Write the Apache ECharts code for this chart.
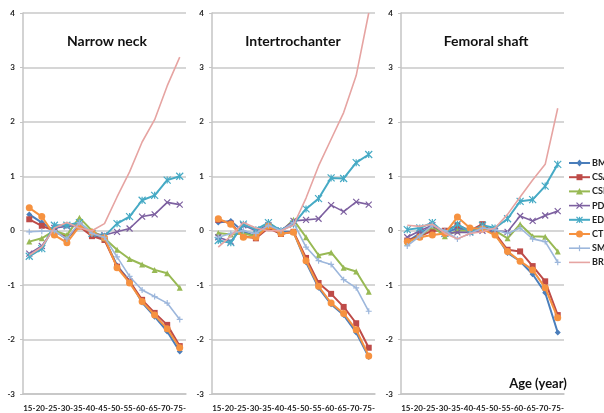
<!DOCTYPE html>
<html><head><meta charset="utf-8">
<script src="https://cdn.jsdelivr.net/npm/echarts@6/dist/echarts.min.js"></script>
<style>html,body{margin:0;padding:0;background:#fff}#c{width:604px;height:413px}</style>
</head><body><div id="c"></div>
<script>
var categories = ['15-','20-','25-','30-','35-','40-','45-','50-','55-','60-','65-','70-','75-'];
var panelTitles = ['Narrow neck','Intertrochanter','Femoral shaft'];
var seriesNames = ['BMD','CSA','CSMI','PD','ED','CT','SM','BR'];
var yTicks = [-3,-2,-1,0,1,2,3,4];

// Narrow neck
var nnBMD  = [0.30,0.15,0.00,-0.15,0.10,-0.08,-0.15,-0.64,-0.92,-1.32,-1.58,-1.85,-2.22];
var nnCSA  = [0.21,0.09,0.00,-0.12,0.08,-0.10,-0.17,-0.66,-0.93,-1.27,-1.51,-1.73,-2.12];
var nnCSMI = [-0.20,-0.14,0.00,-0.08,0.24,0.00,-0.14,-0.35,-0.52,-0.62,-0.72,-0.78,-1.05];
var nnPD   = [-0.42,-0.28,0.05,0.08,0.10,-0.05,-0.08,-0.02,0.04,0.26,0.30,0.52,0.48];
var nnED   = [-0.47,-0.33,0.10,0.10,0.15,-0.05,-0.10,0.13,0.26,0.56,0.65,0.93,1.00];
var nnCT   = [0.42,0.26,-0.08,-0.22,0.08,-0.03,-0.13,-0.68,-0.96,-1.30,-1.55,-1.80,-2.15];
var nnSM   = [-0.02,-0.01,0.00,-0.15,0.15,-0.05,-0.12,-0.48,-0.84,-1.09,-1.21,-1.33,-1.63];
var nnBR   = [-0.45,-0.30,0.05,0.15,0.05,0.00,0.13,0.62,1.08,1.63,2.04,2.66,3.19];

// Intertrochanter
var itBMD  = [0.15,0.18,-0.02,-0.10,0.10,-0.02,-0.02,-0.58,-1.05,-1.35,-1.55,-1.87,-2.32];
var itCSA  = [0.20,0.13,-0.10,-0.14,0.05,-0.06,-0.02,-0.50,-0.96,-1.16,-1.40,-1.70,-2.15];
var itCSMI = [-0.04,-0.07,-0.05,-0.10,0.15,-0.02,0.20,-0.12,-0.45,-0.40,-0.68,-0.75,-1.12];
var itPD   = [-0.12,-0.20,0.10,0.00,0.10,0.00,0.18,0.20,0.22,0.47,0.35,0.53,0.48];
var itED   = [-0.18,-0.22,0.12,0.02,0.15,0.00,0.12,0.40,0.59,0.97,0.96,1.25,1.40];
var itCT   = [0.22,0.12,-0.12,-0.12,0.08,-0.05,-0.03,-0.55,-1.02,-1.33,-1.52,-1.82,-2.30];
var itSM   = [-0.12,-0.05,0.00,-0.05,0.10,0.00,0.15,-0.30,-0.55,-0.62,-0.90,-1.05,-1.48];
var itBR   = [-0.30,-0.10,0.15,0.05,0.00,0.00,0.10,0.60,1.19,1.68,2.17,2.85,4.00];

// Femoral shaft
var fsBMD  = [-0.20,-0.05,0.08,-0.05,0.05,0.00,0.05,-0.05,-0.41,-0.56,-0.80,-1.14,-1.87];
var fsCSA  = [-0.18,-0.10,0.00,0.00,0.10,0.00,0.12,-0.05,-0.35,-0.38,-0.65,-0.93,-1.55];
var fsCSMI = [-0.22,-0.10,0.08,-0.10,0.00,0.00,0.05,0.00,-0.14,0.12,-0.10,-0.11,-0.38];
var fsPD   = [-0.12,0.00,0.10,-0.05,-0.03,-0.03,0.00,0.00,-0.02,0.27,0.18,0.28,0.36];
var fsED   = [0.02,0.05,0.15,-0.05,0.12,-0.02,0.10,0.05,0.22,0.54,0.57,0.82,1.22];
var fsCT   = [-0.20,-0.12,-0.08,-0.05,0.25,0.05,0.03,-0.08,-0.38,-0.56,-0.72,-1.05,-1.60];
var fsSM   = [-0.28,-0.10,0.10,0.00,-0.15,-0.05,0.05,0.02,-0.05,0.05,-0.15,-0.20,-0.58];
var fsBR   = [0.10,0.08,0.12,-0.05,-0.15,-0.05,-0.02,0.05,0.30,0.62,0.93,1.22,2.25];

var panels = [
  [nnBMD,nnCSA,nnCSMI,nnPD,nnED,nnCT,nnSM,nnBR],
  [itBMD,itCSA,itCSMI,itPD,itED,itCT,itSM,itBR],
  [fsBMD,fsCSA,fsCSMI,fsPD,fsED,fsCT,fsSM,fsBR]
];

var colors = ['#4A7EBB','#BE4B48','#98B954','#7D60A0','#46AAC5','#F69240','#9DB7DC','#E6A4A2'];
var symbols = ['diamond','rect','triangle',
  'path://M0,0L10,10M10,0L0,10',
  'path://M0,0L10,10M10,0L0,10M5,0L5,10',
  'circle',
  'path://M5,0L5,10M0,5L10,5',
  'path://M0,5L10,5'];
var symSizes = [6,6,6,6,7,7,6,6];
var lineWidths = [2,2,2,1.6,2,2,1.6,1.6];
var strokeSym = [false,false,false,true,true,false,true,true];

var chart = echarts.init(document.getElementById('c'));
var gridLefts = [23,212,401];
var titleCenters = [107,293,486];
var grids = [], xAxes = [], yAxes = [], series = [], graphics = [];
var font = 'Lato, "Liberation Sans", sans-serif';
for (var p = 0; p < 3; p++) {
  grids.push({left: gridLefts[p], top: 13, width: 163, height: 381});
  xAxes.push({type:'category', gridIndex:p, data:categories, boundaryGap:true,
    axisLine:{show:true, onZero:false, lineStyle:{color:'#c4c4c4', width:1.5}},
    axisTick:{show:false},
    axisLabel:{interval:0, margin:10, fontSize:8, fontWeight:'bold', color:'#222', fontFamily:font}});
  yAxes.push({type:'value', gridIndex:p, min:-3, max:4, interval:1,
    axisLine:{show:true, lineStyle:{color:'#c4c4c4', width:1.5}},
    axisTick:{show:true, length:3, lineStyle:{color:'#c4c4c4'}},
    splitLine:{show:true, lineStyle:{color:'#c8c8c8', width:1.5}},
    axisLabel:{margin:8, fontSize:8, fontWeight:'bold', color:'#222', fontFamily:font}});
  graphics.push({type:'text', x: titleCenters[p], y: 41,
    style:{text: panelTitles[p], align:'center', verticalAlign:'middle',
      font:'bold 14px ' + font, fill:'#111'}});
  for (var s = 0; s < seriesNames.length; s++) {
    series.push({name: seriesNames[s], type:'line', xAxisIndex:p, yAxisIndex:p,
      data: panels[p][s], symbol: symbols[s], symbolSize: symSizes[s], showSymbol:true,
      lineStyle:{color: colors[s], width: lineWidths[s]},
      itemStyle: strokeSym[s] ? {color: colors[s], borderColor: colors[s], borderWidth: 1.2}
                               : {color: colors[s]},
      emphasis:{disabled:true}, animation:false, z: 2 + s});
  }
}

function seg(x1, y1, x2, y2, c) {
  return {type:'line', shape:{x1:x1, y1:y1, x2:x2, y2:y2}, style:{stroke:c, lineWidth:1.2}};
}
// legend drawn as graphic (line sample + marker + name)
for (var i = 0; i < seriesNames.length; i++) {
  var ly = 163 + 14.2 * i, c = colors[i], mx = 579.5, r = 3;
  graphics.push({type:'line', shape:{x1:569, y1:ly, x2:590, y2:ly}, style:{stroke:c, lineWidth:lineWidths[i]}});
  if (i === 0) graphics.push({type:'polygon', shape:{points:[[mx,ly-r-0.5],[mx+r,ly],[mx,ly+r+0.5],[mx-r,ly]]}, style:{fill:c}});
  else if (i === 1) graphics.push({type:'rect', shape:{x:mx-r, y:ly-r, width:2*r, height:2*r}, style:{fill:c}});
  else if (i === 2) graphics.push({type:'polygon', shape:{points:[[mx,ly-r-0.5],[mx+r+0.5,ly+r],[mx-r-0.5,ly+r]]}, style:{fill:c}});
  else if (i === 3) { graphics.push(seg(mx-r,ly-r,mx+r,ly+r,c)); graphics.push(seg(mx+r,ly-r,mx-r,ly+r,c)); }
  else if (i === 4) { graphics.push(seg(mx-r,ly-r,mx+r,ly+r,c)); graphics.push(seg(mx+r,ly-r,mx-r,ly+r,c)); graphics.push(seg(mx,ly-r,mx,ly+r,c)); }
  else if (i === 5) graphics.push({type:'circle', shape:{cx:mx, cy:ly, r:r+0.5}, style:{fill:c}});
  else if (i === 6) graphics.push(seg(mx,ly-r,mx,ly+r,c));
  graphics.push({type:'text', x:592, y:ly, style:{text: seriesNames[i], align:'left', verticalAlign:'middle',
    font:'bold 9px ' + font, fill:'#222'}});
}
graphics.push({type:'text', x: 538, y: 384,
  style:{text:'Age (year)', align:'center', verticalAlign:'middle', font:'bold 13px ' + font, fill:'#111'}});

chart.setOption({
  animation:false,
  color: colors,
  grid: grids,
  xAxis: xAxes,
  yAxis: yAxes,
  graphic: graphics,
  series: series
});
</script></body></html>
